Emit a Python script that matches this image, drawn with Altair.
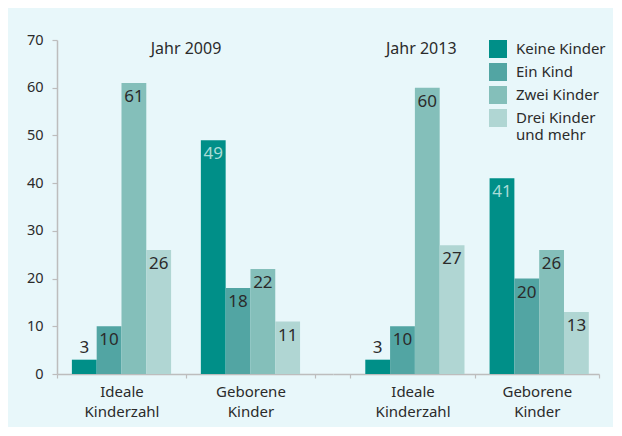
import altair as alt
import pandas as pd

kategorien = ["Keine Kinder", "Ein Kind", "Zwei Kinder", "Drei Kinder und mehr"]
gruppen = ["Ideale Kinderzahl", "Geborene Kinder"]
jahre = ["Jahr 2009", "Jahr 2013"]
werte_2009_ideal = [3, 10, 61, 26]
werte_2009_geboren = [49, 18, 22, 11]
werte_2013_ideal = [3, 10, 60, 27]
werte_2013_geboren = [41, 20, 26, 13]
farben = ["#008f88", "#52a5a3", "#84bfba", "#b0d6d3"]

FONT = "Noto Sans"
TXT = "#2b2b2b"

rows = []
serien = {
    "Jahr 2009": [werte_2009_ideal, werte_2009_geboren],
    "Jahr 2013": [werte_2013_ideal, werte_2013_geboren],
}
for jahr in jahre:
    for g, vals in zip(gruppen, serien[jahr]):
        for k, v in zip(kategorien, vals):
            rows.append(dict(jahr=jahr, gruppe=g, kategorie=k, wert=v,
                             lbl="#a9dcd7" if k == "Keine Kinder" else TXT))
df = pd.DataFrame(rows)


def panel(jahr, width, align, show_y, show_legend, year_band):
    d = df[df.jahr == jahr]
    xs = alt.Scale(domain=gruppen, paddingInner=0, paddingOuter=0.07, align=align)
    xaxis = alt.Axis(title=None, labelAngle=0, tickBand="extent",
                     labelExpr="split(datum.label, ' ')", labelLineHeight=20,
                     labelFontSize=15, labelColor=TXT, labelPadding=6,
                     tickSize=4, domainColor="#bdbdbd", tickColor="#bdbdbd",
                     domainWidth=1.5, tickWidth=1.2, labelFont=FONT)
    x = alt.X("gruppe:N", scale=xs, sort=gruppen, axis=xaxis)
    xo = alt.XOffset("kategorie:N", sort=kategorien,
                     scale=alt.Scale(domain=kategorien, paddingInner=0, paddingOuter=0.6))
    if show_y:
        yaxis = alt.Axis(title=None, values=[0, 10, 20, 30, 40, 50, 60, 70], grid=False,
                         labelFontSize=14.5, labelColor=TXT, tickSize=5, labelPadding=9,
                         domainColor="#bdbdbd", tickColor="#bdbdbd", domainWidth=1.5,
                         tickWidth=1.2, labelFont=FONT)
    else:
        yaxis = None
    y = alt.Y("wert:Q", scale=alt.Scale(domain=[0, 70]), axis=yaxis)
    if show_legend:
        leg = alt.Legend(title=None, orient="none", legendX=156, legendY=0,
                         symbolType="square", symbolSize=324, symbolStrokeWidth=0,
                         labelFontSize=15, labelColor=TXT, labelFont=FONT, labelOffset=9,
                         rowPadding=5, padding=0, labelLimit=200,
                         labelExpr="datum.label == 'Drei Kinder und mehr' ? ['Drei Kinder', 'und mehr'] : datum.label")
    else:
        leg = None
    base = alt.Chart(d)
    bars = base.mark_bar().encode(
        x=x, xOffset=xo, y=y,
        color=alt.Color("kategorie:N", sort=kategorien,
                        scale=alt.Scale(domain=kategorien, range=farben), legend=leg),
    )
    inside = base.transform_filter("datum.wert >= 5").mark_text(
        baseline="top", dy=6, fontSize=17, font=FONT
    ).encode(x=x, xOffset=xo, y=y, text="wert:Q", fill=alt.Fill("lbl:N", scale=None))
    above = base.transform_filter("datum.wert < 5").mark_text(
        baseline="bottom", dy=-3, fontSize=17, font=FONT, color=TXT
    ).encode(x=x, xOffset=xo, y=y, text="wert:Q")
    ydf = pd.DataFrame({"jahr": [jahr], "gruppe": [gruppen[0]], "wert": [70]})
    year = alt.Chart(ydf).mark_text(
        baseline="top", fontSize=16, font=FONT, color=TXT, dy=1
    ).encode(x=alt.X("gruppe:N", scale=xs, sort=gruppen, axis=xaxis, bandPosition=year_band),
             y=y, text="jahr:N")
    return alt.layer(bars, inside, above, year).properties(width=width, height=334)


left = panel("Jahr 2009", 276, 0, True, False, 1.0)
right = panel("Jahr 2013", 266, 1, False, True, 0.57)

chart = alt.hconcat(left, right, spacing=0, bounds="flush").resolve_scale(
    color="independent"
).resolve_legend(color="independent").properties(
    padding={"left": 18, "top": 24, "right": 7, "bottom": 8},
    background="#e8f7fa",
).configure_view(stroke=None)

chart.save("out.html", embed_options={"renderer": "svg", "actions": False})
